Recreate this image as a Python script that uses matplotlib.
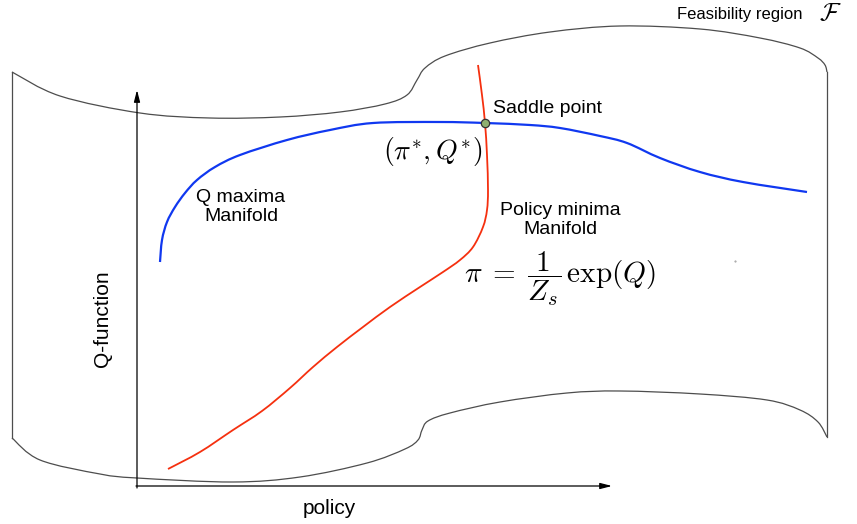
import matplotlib
matplotlib.use("Agg")
import matplotlib.pyplot as plt
from matplotlib.path import Path
from matplotlib.patches import PathPatch
import numpy as np

plt.rcParams['font.family'] = ['Liberation Sans', 'DejaVu Sans']
plt.rcParams['mathtext.fontset'] = 'cm'

# Surface outline (pixel coordinates)
top_x = [12, 60, 140, 210, 280, 340, 385, 407, 417, 425, 445, 490, 550, 620, 700, 760, 800, 818, 825, 827]
top_y = [72, 96, 113, 118, 117, 112, 104, 95, 80, 68, 56, 43, 32, 26, 29, 38, 48, 58, 65, 72]
bot_x = [12, 40, 100, 137, 233, 300, 367, 405, 418, 422, 428, 450, 500, 567, 620, 700, 767, 800, 818, 827]
bot_y = [438, 460, 474, 478, 482, 477, 463, 449, 440, 430, 421, 413, 402, 393, 391, 394, 400, 410, 422, 437]
left_x = [12, 12]
left_y = [72, 438]
right_x = [827, 827]
right_y = [72, 437]

# Q maxima manifold (blue)
blue_x = [160, 162, 167, 175, 185, 197, 215, 240, 287, 330, 373, 440, 485, 530, 560, 600, 627, 660, 700, 743, 807]
blue_y = [262, 240, 222, 207, 193, 180, 167, 155, 140, 130, 123, 122, 123, 125, 128, 136, 143, 158, 172, 182, 192]

# Policy minima manifold (red)
red_x = [478, 482, 485, 487, 488, 487, 483, 473, 460, 443, 420, 390, 363, 337, 313, 290, 262, 233, 200, 168]
red_y = [65, 95, 123, 155, 190, 210, 227, 247, 260, 272, 287, 307, 327, 347, 367, 388, 411, 430, 452, 469]

saddle_x = [485]
saddle_y = [123]


def smooth_path(xs, ys):
    """Catmull-Rom anchors turned into cubic Bezier segments drawn by matplotlib."""
    p = np.column_stack([xs, ys]).astype(float)
    verts = [p[0]]
    codes = [Path.MOVETO]
    n = len(p)
    for i in range(n - 1):
        p0 = p[i - 1] if i > 0 else p[i]
        p1 = p[i]
        p2 = p[i + 1]
        p3 = p[i + 2] if i + 2 < n else p[i + 1]
        c1 = p1 + (p2 - p0) / 6.0
        c2 = p2 - (p3 - p1) / 6.0
        verts += [c1, c2, p2]
        codes += [Path.CURVE4] * 3
    return Path(verts, codes)


fig = plt.figure(figsize=(8.57, 5.24), dpi=100)
ax = fig.add_axes([0, 0, 1, 1])
ax.set_xlim(0, 857)
ax.set_ylim(524, 0)
ax.axis('off')

gray = '#4d4d4d'
for xs, ys in [(top_x, top_y), (bot_x, bot_y)]:
    ax.add_patch(PathPatch(smooth_path(xs, ys), fill=False, edgecolor=gray, lw=0.9))
for xs, ys in [(left_x, left_y), (right_x, right_y)]:
    ax.plot(xs, ys, color=gray, lw=0.9)

# axes arrows
ax.annotate('', xy=(137, 90), xytext=(137, 488),
            arrowprops=dict(arrowstyle='-|>,head_length=0.7,head_width=0.18', color='black', lw=0.9, shrinkA=0, shrinkB=0))
ax.annotate('', xy=(612, 486), xytext=(136, 486),
            arrowprops=dict(arrowstyle='-|>,head_length=0.7,head_width=0.18', color='black', lw=0.9, shrinkA=0, shrinkB=0))

ax.add_patch(PathPatch(smooth_path(blue_x, blue_y), fill=False, edgecolor='#1038f0', lw=1.6))
ax.add_patch(PathPatch(smooth_path(red_x, red_y), fill=False, edgecolor='#f5300f', lw=1.3))
ax.plot(saddle_x, saddle_y, marker='o', ms=6, mfc='#8fb070', mec='#333333', mew=0.9, linestyle='none')
ax.plot([735], [261], marker='.', ms=1, color='#999999')

ax.text(803, 19, 'Feasibility region', ha='right', va='baseline', fontsize=12)
ax.text(819, 20, r'$\mathcal{F}$', ha='left', va='baseline', fontsize=18)
ax.text(493, 113, 'Saddle point', ha='left', va='baseline', fontsize=14)
ax.text(433, 152, r'$(\pi^{*}, Q^{*})$', ha='center', va='center', fontsize=20)
ax.text(241, 207, 'Q maxima\nManifold', ha='center', va='center', fontsize=14, linespacing=1.15)
ax.text(560, 220, 'Policy minima\nManifold', ha='center', va='center', fontsize=14, linespacing=1.15)
ax.text(560, 279, r'$\pi \;=\; \dfrac{1}{Z_s}\,\exp(Q)$', ha='center', va='center', fontsize=21)
ax.text(103, 319, 'Q-function', ha='center', va='center', rotation=90, fontsize=15)
ax.text(329, 508, 'policy', ha='center', va='center', fontsize=15)

fig.savefig('out.png', dpi=100)
